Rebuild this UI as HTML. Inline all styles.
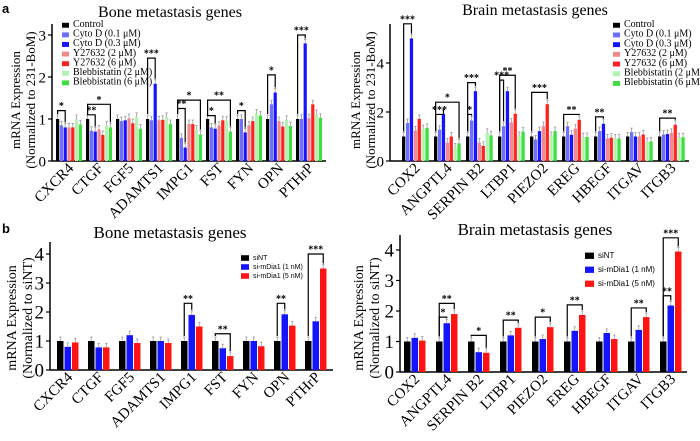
<!DOCTYPE html>
<html><head><meta charset="utf-8"><style>
body{margin:0;background:#fff;}
svg{display:block;font-family:"Liberation Serif",serif;}
</style></head><body>
<svg id="c" width="700" height="441" viewBox="0 0 700 441" xmlns="http://www.w3.org/2000/svg">
<text x="2" y="13" font-family="Liberation Sans" font-weight="bold" font-size="13">a</text>
<text x="2" y="233" font-family="Liberation Sans" font-weight="bold" font-size="13">b</text>
</svg>
<script>
const boneGenes=["CXCR4","CTGF","FGF5","ADAMTS1","IMPG1","FST","FYN","OPN","PTHrP"];
const brainGenes=["COX2","ANGPTL4","SERPIN B2","LTBP1","PIEZO2","EREG","HBEGF","ITGAV","ITGB3"];
const legendA=["Control","Cyto D (0.1 \u03bcM)","Cyto D (0.3 \u03bcM)","Y27632  (2 \u03bcM)","Y27632  (6 \u03bcM)","Blebbistatin  (2 \u03bcM)","Blebbistatin  (6 \u03bcM)"];
const legendB=["siNT","si-mDia1 (1 nM)","si-mDia1 (5 nM)"];
const aBoneControl=[1,1,1,1,1,1,1,1,1];
const aBoneCyto01=[0.85,0.72,0.95,0.97,0.55,0.8,1.0,1.35,1.0];
const aBoneCyto03=[0.8,0.7,0.97,1.84,0.32,0.77,0.68,1.63,2.8];
const aBoneY2=[0.8,0.75,1.02,0.97,0.88,0.84,0.85,0.95,1.02];
const aBoneY6=[0.8,0.62,0.9,0.98,0.88,0.97,0.95,0.82,1.35];
const aBoneB2=[1.0,0.85,1.05,1.05,0.75,0.96,1.13,0.98,1.12];
const aBoneB6=[0.87,0.8,0.77,0.88,0.63,0.7,1.08,0.83,1.03];
const aBrainControl=[1,1,1,1,1,1,1,1,1];
const aBrainCyto01=[1.55,1.28,1.65,1.42,0.88,1.42,1.22,1.18,1.08];
const aBrainCyto03=[5.0,1.92,2.85,2.85,1.22,1.07,1.52,1.0,1.1];
const aBrainY2=[1.25,0.75,0.75,1.57,1.42,1.32,0.92,1.0,1.15];
const aBrainY6=[1.72,1.0,0.62,1.93,2.32,1.68,0.95,1.08,1.48];
const aBrainB2=[1.3,0.55,1.15,1.02,1.02,0.97,0.92,0.78,0.97];
const aBrainB6=[1.35,0.72,1.05,1.2,1.22,0.98,0.92,0.8,0.97];
const bBoneSiNT=[1,1,1,1,1,1,1,1,1];
const bBone1nM=[0.8,0.78,1.2,1.0,1.9,0.75,1.0,1.92,1.68];
const bBone5nM=[0.95,0.78,0.93,0.93,1.5,0.48,0.82,1.53,3.5];
const bBrainSiNT=[1,1,1,1,1,1,1,1,1];
const bBrain1nM=[1.12,1.6,0.65,1.2,1.08,1.35,1.28,1.38,2.18];
const bBrain5nM=[1.03,1.9,0.63,1.45,1.47,1.87,1.08,1.8,3.95];
const aBoneBrackets=[[0,0,2,1.2,"*"],[1,0,2,1.1,"**"],[1,0,6,1.35,"*"],[3,0,2,2.45,"***"],[4,0,2,1.25,"**"],[4,0,6,1.45,"*"],[5,0,2,1.08,"*"],[5,0,6,1.45,"**"],[6,0,2,1.2,"*"],[7,0,2,2.05,"*"],[8,0,2,3.0,"***"]];
const aBrainBrackets=[[0,0,2,5.6,"***"],[1,0,2,1.9,"***"],[1,0,6,2.4,"*"],[2,0,1,1.9,"*"],[2,0,2,3.2,"***"],[3,0,1,3.3,"***"],[3,0,4,3.5,"**"],[4,0,4,2.8,"***"],[5,0,4,1.9,"**"],[6,0,2,1.8,"**"],[8,0,4,1.75,"**"]];
const bBoneBrackets=[[4,0,1,2.3,"**"],[5,0,2,1.25,"**"],[7,0,1,2.3,"**"],[8,0,2,4.0,"***"]];
const bBrainBrackets=[[1,0,1,1.8,"*"],[1,0,2,2.25,"**"],[2,0,2,1.2,"*"],[3,0,2,1.7,"**"],[4,0,2,1.8,"*"],[5,0,2,2.2,"**"],[7,0,2,2.1,"**"],[8,0,1,2.5,"**"],[8,0,2,4.4,"***"]];
const yTicksA1=[0,1,2,3], yTicksA2=[0,2,4], yTicksB=[0,1,2,3,4];

const svg=document.getElementById('c');
const NS="http://www.w3.org/2000/svg";
function mk(tag,attrs,parent){const e=document.createElementNS(NS,tag);for(const k in attrs)e.setAttribute(k,attrs[k]);(parent||svg).appendChild(e);return e;}

function panel(o){
  const g=mk('g',{});
  
  
  const ys=v=>o.y0-v*o.ppu;
  const xs=(gi,si)=>o.gx0+gi*o.gsp+si*o.bw;
  const t=mk('text',{x:o.tx,y:o.ty,'text-anchor':'middle','font-size':o.tfs},g);t.textContent=o.title;
  
  
  const yt=mk('text',{transform:`translate(${o.ytx},${o.yty}) rotate(-90)`,'text-anchor':'middle','font-size':o.ytfs},g);
  
  
  const s1=mk('tspan',{x:0,dy:0},yt);s1.textContent="mRNA Expression";
  const s2=mk('tspan',{x:0,dy:o.ytfs+2},yt);s2.textContent=o.ytitle2;
  const ya=mk('line',{x1:o.ax,x2:o.ax,y1:o.atop,y2:o.y0,stroke:'#000','stroke-width':1.5},g);
  
  
  const xa=mk('line',{x1:o.ax,x2:o.aend,y1:o.y0,y2:o.y0,stroke:'#000','stroke-width':1.5},g);
  
  
  o.ticks.forEach(v=>{
    mk('line',{x1:o.ax-4,x2:o.ax,y1:ys(v),y2:ys(v),stroke:'#000','stroke-width':1.2},g);
    const tl=mk('text',{x:o.ax-6,y:ys(v)+o.tkfs*0.35,'text-anchor':'end','font-size':o.tkfs},g);tl.textContent=v;
    
    
  });
  o.series.forEach((arr,si)=>{
    arr.forEach((v,gi)=>{
      const x=xs(gi,si),y=ys(v);
      const r=mk('rect',{x:x,y:y,width:o.bw-o.gap,height:o.y0-y,fill:o.colors[si]},g);
      
      
      const cx=x+(o.bw-o.gap)/2;
      mk('line',{x1:cx,x2:cx,y1:y,y2:y-4,stroke:'#999','stroke-width':0.8},g);
      mk('line',{x1:cx-1.2,x2:cx+1.2,y1:y-4,y2:y-4,stroke:'#999','stroke-width':0.8},g);
    });
  });
  o.genes.forEach((nm,gi)=>{
    const cx=xs(gi,o.series.length/2)+5;
    const l=mk('text',{transform:`translate(${cx},${o.y0+8}) rotate(-45)`,'text-anchor':'end','font-size':o.lfs},g);
    l.textContent=nm;
    
    
  });
  o.brackets.forEach(b=>{
    const [gi,a,c,v,lab]=b;
    const x1=xs(gi,a)+(o.bw-o.gap)/2,x2=xs(gi,c)+(o.bw-o.gap)/2,y=ys(v);
    const p=mk('path',{d:`M${x1},${ys(o.series[a][gi])-5}V${y}H${x2}V${ys(o.series[c][gi])-5}`,fill:'none',stroke:'#000','stroke-width':1.2},g);
    
    
    const st=mk('text',{x:(x1+x2)/2,y:y-1.5,'text-anchor':'middle','font-size':10,'font-weight':'bold'},g);st.textContent=lab;
  });
  const lg=mk('g',{},g);
  
  
  o.legend.forEach((nm,i)=>{
    const y=o.ly+i*o.lsp;
    mk('rect',{x:o.lx,y:y-o.lsw*0.6,width:o.lsw,height:o.lsw*0.7,fill:o.colors[i]},lg);
    const tt=mk('text',{x:o.lx+o.lsw+4,y:y,'font-size':o.lfs2,'font-family':o.lff},lg);tt.textContent=nm;
    
    
  });
}
const colA=['#000','#6f6fff','#1414ff','#f08a8a','#ff2020','#b2f2b2','#3ede3e'];
const colB=['#000','#1414ff','#ff1414'];
panel({name:'panel-a-bone',title:'Bone metastasis genes',tx:170,ty:17,tfs:16,ytitle2:'(Normalized to 231-BoM)',ytx:20,yty:100,ytfs:13,
  ax:52,aend:326,atop:24,y0:161,ppu:42,ticks:yTicksA1,tkfs:15,gx0:56,gsp:30,bw:3.8,gap:0.6,
  series:[aBoneControl,aBoneCyto01,aBoneCyto03,aBoneY2,aBoneY6,aBoneB2,aBoneB6],colors:colA,genes:boneGenes,lfs:15,
  brackets:aBoneBrackets,legend:legendA,lx:62,ly:27,lsp:9.6,lsw:7,lfs2:10,lff:'Liberation Serif'});
panel({name:'panel-a-brain',title:'Brain metastasis genes',tx:535,ty:15,tfs:16,ytitle2:'(Normalized to 231-BoM)',ytx:360,yty:100,ytfs:13,
  ax:390,aend:689,atop:24,y0:161,ppu:24.5,ticks:yTicksA2,tkfs:15,gx0:402,gsp:32,bw:3.9,gap:0.6,
  series:[aBrainControl,aBrainCyto01,aBrainCyto03,aBrainY2,aBrainY6,aBrainB2,aBrainB6],colors:colA,genes:brainGenes,lfs:15,
  brackets:aBrainBrackets,legend:legendA,lx:613,ly:27,lsp:9.7,lsw:7,lfs2:10,lff:'Liberation Serif'});
panel({name:'panel-b-bone',title:'Bone metastasis genes',tx:170,ty:238,tfs:17,ytitle2:'(Normalized to siNT)',ytx:16,yty:318,ytfs:14,
  ax:50,aend:333,atop:242,y0:370,ppu:29,ticks:yTicksB,tkfs:19,gx0:57,gsp:31,bw:7.5,gap:1,
  series:[bBoneSiNT,bBone1nM,bBone5nM],colors:colB,genes:boneGenes,lfs:15,
  brackets:bBoneBrackets,legend:legendB,lx:241,ly:260,lsp:9,lsw:8,lfs2:7,lff:'Liberation Sans'});
panel({name:'panel-b-brain',title:'Brain metastasis genes',tx:535,ty:235,tfs:17,ytitle2:'(Normalized to siNT)',ytx:363,yty:318,ytfs:14,
  ax:400,aend:687,atop:235,y0:372,ppu:30.5,ticks:yTicksB,tkfs:19,gx0:404,gsp:32,bw:7.5,gap:1,
  series:[bBrainSiNT,bBrain1nM,bBrain5nM],colors:colB,genes:brainGenes,lfs:15,
  brackets:bBrainBrackets,legend:legendB,lx:585,ly:258,lsp:14,lsw:9,lfs2:8,lff:'Liberation Sans'});
</script>
</body></html>
